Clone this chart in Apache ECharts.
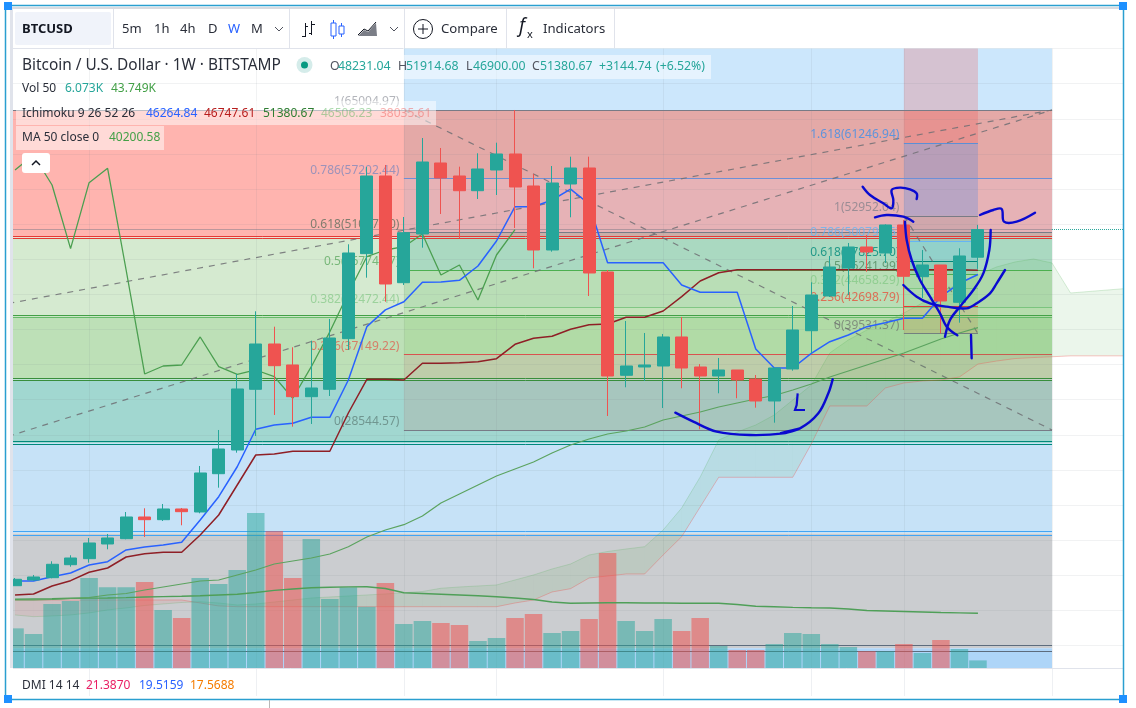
<!DOCTYPE html>
<html><head><meta charset="utf-8">
<style>html,body{margin:0;padding:0;background:#fff}#c{width:1136px;height:708px}</style>
<script src="https://cdn.jsdelivr.net/npm/echarts@6/dist/echarts.min.js"></script>
</head><body><div id="c"></div>
<script>
// ---- weekly candles (index 0 = first visible week)
const opens=[10803,11453,11715,13195,13880,15556,16157,18631,18324,19543,19201,23564,26265,33180,38343,35949,32339,33180,38947,48632,57485,45327,50876,58966,57485,55809,58168,59991,56345,49053,56573,58396,46546,34775,35722,35836,39141,35722,34696,35380,34355,31848,35494,39858,43812,46992,49395,48711,51902,46011,47344,43094,48231.04];
const closes=[11533,11795,13242,13958,15669,16240,18631,18324,19543,19235,23645,26379,33216,38343,35871,32339,33329,39026,48711,57485,45179,51024,59080,57257,55809,58282,59991,56231,49053,56687,58396,46432,34696,35836,35949,39141,35608,34696,35380,34241,31848,35608,39938,43925,47116,49395,48825,51902,46056,47344,43242,48371,51380.67];
const lows=[10769,11373,11646,12968,13425,14950,16090,16352,18176,17685,19053,21970,25958,27860,30253,28922,29228,32416,37659,45897,43163,45065,49316,53155,50387,54864,55320,51560,46968,48860,52779,43812,30139,33410,34128,31050,33295,28624,32725,32157,31085,29377,35300,37283,43698,43925,46580,47572,39938,43583,39561,40770,46900];
const highs=[11678,12023,13584,14268,16240,16696,19199,19622,20112,19656,24441,28544,34924,42069,40314,37967,38719,41191,49702,58510,58738,52814,61814,60675,58545,60071,61279,65005,57712,58624,59684,59684,46774,40964,39596,39482,41419,36050,36750,35380,34811,35608,42673,45373,48370,49851,50762,51980,52471,49053,47344,49247,51914.68];
// ---- volume in thousands
const volumes=[31.7,27.2,51.2,53.6,72,64.6,64.6,68.8,46.4,40,72,67.2,78.4,124,109.6,72,103.2,55.2,64.6,49,68,35.2,37.6,36,34.4,21.6,24,40,43.2,28,29.6,39.2,92,37.6,29.6,39.2,29.6,40,17.6,14.4,14.4,19.2,28,27.2,19.2,16.8,13.4,13.4,19.2,12,22.4,15.2,6.073];
const volumeMA=[55,55.2,55.4,55.8,55.9,56,56.3,56.8,57.1,57.4,57.8,58.4,59,60.4,62.1,63.2,64.2,64.6,64.9,65,63.6,60.2,59.6,59,58.4,57.8,57,56,54.8,52.8,51.8,52,52.2,52.2,52,52,51.8,51.8,51.8,50.8,49.4,49,48.5,48.2,48,47.2,46,45.6,45.2,44.8,44.4,44.1,43.749];
// ---- indicators
const tenkan=[11339,11339,11830,12252,13162,13538,14871,15213,15441,15749,18289,20943,24357,28624,29113,29307,29990,29990,34241,40315,42224,43162,45373,45407,45600,47229,50078,53986,53986,54750,55993,54294,47606,47606,47606,47606,45065,44234,44234,44234,37773,35608,35608,37283,38605,39368,40315,40770,41271,41271,43732,45259,46264.84];
const kijun=[9744,9858,10769,11373,12330,12820,14073,14449,14609,14609,16580,18859,22277,25695,25809,26117,26117,26117,30481,34321,34321,34241,36145,36145,36213,36327,36669,38309,38993,39220,40018,40542,40622,41385,41385,42101,43732,45521,46466,46800,46800,46800,46800,46800,46800,46800,46800,46800,46800,46800,46800,46800,46747.61];
const chikou=[58168,59877,56460,49201,56722,58362,46774,34925,35835,35950,39141,35755,34891,35380,34616,32156,35755,39744,44154,48290,49053,49430,50876,46205,47344,43356,48483,51380.67];
const ma50=[9174,9174,9231,9345,9459,9744,9915,10314,10656,10998,11339,11453,12023,12592,13275,13617,13959,14415,15247,16353,17150,17754,18746,20227,21252,22277,23303,24100,24898,25923,26835,27518,28088,28430,28886,29683,30139,30595,31164,31620,32076,32475,33101,33785,34583,35267,35950,36634,37318,38115,38913,39597,40200.58];
const leadA=[7467,7273,7353,7467,7695,8035,8263,8548,8719,8890,8981,8833,8605,8719,8947,9174,9402,9516,9630,9744,9858,10006,10143,10508,10656,10770,10883,11453,12023,12706,13276,14301,14700,14985,15247,17150,19656,23188,27404,28316,29113,30253,31962,33669,37318,38798,39938,40850,41875,43014,44154,45293,46205,47116,47686,48027,47572,44154,44325,44495,44666];
const leadB=[9174,9174,9174,9174,9174,9174,9174,9174,9174,9174,8833,8491,8411,8411,8411,8411,8411,8411,8411,8411,8411,8411,8411,8411,8411,8411,8411,8833,9174,10086,10462,11681,11909,12137,12137,14301,16386,19770,23154,23154,23154,23154,23154,26949,31279,31279,31279,33330,33900,34128,34241,34583,36057,36399,36684,36798,36889,36991,36991,36991,36991];
// ---- fibonacci retracements: price levels
const fibA=[65005,50480,41515,34297,27063,16752,3671,0];
const fibAColors=['rgb(255,180,175)','rgb(213,234,208)','rgb(189,224,183)','rgb(161,215,208)','rgb(198,226,247)','rgb(203,205,208)','rgb(174,213,248)'];
const fibALines=[65005,50569,50386,41646,41384,34388,34206,27212,26914,16957,16547,4013,3330];
const fibALineColors=['#787b86','#e53935','#e53935','#43a047','#66bb6a','#388e3c','#388e3c','#00897b','#00897b','#42a5f5','#42a5f5','#5d6c7d','#5d6c7d'];
const fibB=[65004.97,57202.44,51077.1,46774.77,42472.44,37149.22,28544.57];
const fibBNames=['1(65004.97)','0.786(57202.44)','0.618(51077.10)','0.5(46774.77)','0.382(42472.44)','0.236(37149.22)','0(28544.57)'];
const fibBColors=['rgba(120,123,134,.2)','rgba(88,167,222,.15)','rgba(0,150,136,.2)','rgba(76,175,80,.2)','rgba(129,199,100,.2)','rgba(195,130,120,.2)'];
const fibBLineColors=['#787b86','#6d8fd6','#787b86','#4caf50','#81c784','#d9534f','#787b86'];
const fibBTextColors=['rgba(120,123,134,.7)','rgba(110,130,190,.85)','rgba(70,100,80,.85)','rgba(76,160,80,.85)','rgba(129,199,132,.85)','rgba(229,70,60,.8)','rgba(90,120,115,.85)'];
const fibC=[61246.94,52952,50080,47825.7,46241.99,44658.29,42698.79,39531.37];
const fibCNames=['1.618(61246.94)','1(52952.04)','0.786(50079.65)','0.618(47825.70)','0.5(46241.99)','0.382(44658.29)','0.236(42698.79)','0(39531.37)'];
const fibCColors=['rgba(50,126,234,.25)','rgba(120,123,134,.2)','rgba(50,180,240,.2)','rgba(0,150,136,.15)','rgba(76,175,80,.12)','rgba(76,175,80,.1)','rgba(240,120,60,.2)'];
const fibCLineColors=['#5b8fd6','#787b86','#64b5f6','#00897b','#4caf50','#81c784','#e53935','#787b86'];
const fibCTextColors=['#3d8ee8','rgba(120,123,134,.85)','#64b5f6','#00897b','rgba(60,120,70,.8)','rgba(129,199,132,.9)','#e5533d','rgba(110,115,110,.9)'];
const fibCTop=72000;
// ---- dashed trend lines [fromCat,fromPrice,toCat,toPrice]
const trends=[[0,42707,57,65005],[0,27404,57,65005],[22,65005,57,28545],[49,52952,53,39531]];
const lastClose=51380.67;
const monthCats=[5,14,22,27,36,44,49,57];

const N=62, cats=Array.from({length:N},(_,i)=>'w'+i);
const shift=a=>a.map((v,i)=>[i+1,v]);
const F='"Noto Sans",sans-serif';
const UP='#26a69a',DOWN='#ef5350';

const gridLine={lineStyle:{color:'rgba(120,123,134,.1)',width:1}};
const lineS=(name,data,color,z,width,extra)=>Object.assign({name,type:'line',data:shift(data),showSymbol:false,symbol:'none',z,
  lineStyle:{color,width},itemStyle:{color},silent:true},extra||{});
const area=(z,data)=>({type:'line',data:[],silent:true,markArea:{silent:true,z,data}});
const seg=(x0,x1,p0,p1,color)=>[{xAxis:x0,yAxis:p0,itemStyle:{color}},{xAxis:x1,yAxis:p1}];
const hline=(x0,x1,p,color,extra)=>[{xAxis:x0,yAxis:p,lineStyle:Object.assign({color,width:1,type:'solid',opacity:1},extra||{})},{xAxis:x1,yAxis:p}];

const baseBands=fibAColors.map((c,i)=>seg(0,57,fibA[i],fibA[i+1],c));
baseBands.push(seg(22,57,72000,65005,'rgb(204,231,252)'));
const bBands=fibBColors.map((c,i)=>seg(22,57,fibB[i],fibB[i+1],c));
const cBands=fibCColors.map((c,i)=>seg(49,53,fibC[i],fibC[i+1],c));
cBands.unshift(seg(49,53,fibCTop,fibC[0],'rgba(239,83,80,.25)'));

const mLines=[];
fibALines.forEach((p,i)=>mLines.push(hline(0,57,p,fibALineColors[i])));
fibB.forEach((p,i)=>mLines.push(hline(22,57,p,fibBLineColors[i])));
fibC.forEach((p,i)=>mLines.push(hline(49,53,p,fibCLineColors[i])));
mLines.push(hline(0,57,lastClose,'#787b86',{type:'dotted'}));
mLines.push(hline(57,61,lastClose,'#26a69a',{type:'dotted'}));
trends.forEach(t=>mLines.push([{xAxis:t[0],yAxis:t[1],lineStyle:{color:'rgba(110,110,115,.85)',width:1.2,type:[6,6],opacity:1}},{xAxis:t[2],yAxis:t[3]}]));

const fibLabels=[];
fibB.forEach((p,i)=>fibLabels.push({value:[22,p],label:{formatter:fibBNames[i],color:fibBTextColors[i]}}));
fibC.forEach((p,i)=>fibLabels.push({value:[49,p],label:{formatter:fibCNames[i],color:fibCTextColors[i]}}));

const cloudRows=leadA.map((a,i)=>[i+1,a,leadB[i]]);

const series=[
 area(1,baseBands),area(2,bBands),area(3,cBands),
 {type:'line',data:[],silent:true,markLine:{silent:true,z:5,symbol:'none',label:{show:false},emphasis:{disabled:true},data:mLines}},
 {name:'Kumo',type:'custom',z:6,silent:true,data:cloudRows,encode:{x:0,y:[1,2]},clip:true,
  renderItem(params,api){
    const i=params.dataIndex; if(i>=leadA.length-1) return null;
    const a0=api.coord([i+1,leadA[i]]),a1=api.coord([i+2,leadA[i+1]]),b1=api.coord([i+2,leadB[i+1]]),b0=api.coord([i+1,leadB[i]]);
    const up=leadA[i]+leadA[i+1]>=leadB[i]+leadB[i+1];
    return {type:'polygon',shape:{points:[a0,a1,b1,b0]},style:{fill:up?'rgba(76,175,80,.115)':'rgba(239,83,80,.10)',stroke:null}};
  }},
 lineS('Lead 1',leadA,'rgba(76,175,80,.22)',6,1),
 lineS('Lead 2',leadB,'rgba(239,83,80,.35)',6,1),
 {name:'Volume',type:'bar',yAxisIndex:1,barWidth:17.5,z:7,silent:true,
  data:volumes.map((v,i)=>({value:[i+1,v],itemStyle:{color:closes[i]>=opens[i]?'rgba(38,166,154,.5)':'rgba(239,83,80,.55)'}}))},
 lineS('Vol MA',volumeMA,'#4f9f58',8,1.4,{yAxisIndex:1}),
 {name:'Fib labels',type:'scatter',z:8,symbolSize:1,silent:true,itemStyle:{color:'rgba(0,0,0,0)'},data:fibLabels,
  label:{show:true,position:'left',distance:4,offset:[0,-8],fontFamily:F,fontSize:12}},
 lineS('MA 50',ma50,'#5ba35f',9,1.2),
 lineS('Chikou',chikou,'#4b9f50',9,1.3),
 lineS('Kijun',kijun,'#8f1f26',9,1.5),
 lineS('Tenkan',tenkan,'#2962ff',9,1.5),
 {name:'BTCUSD',type:'candlestick',z:12,silent:true,barWidth:12.5,
  data:opens.map((o,i)=>[i+1,o,closes[i],lows[i],highs[i]]),encode:{x:0,y:[1,2,3,4]},
  itemStyle:{color:UP,color0:DOWN,borderColor:UP,borderColor0:DOWN,borderWidth:1}}
];

// ---- page furniture
const g=[];
const txt=(x,y,text,fill,size,weight,z)=>g.push({type:'text',silent:true,z:z||70,style:{x,y,text,fill,font:(weight||'normal')+' '+(size||13)+'px '+F,textVerticalAlign:'middle',verticalAlign:'middle'}});
const rect=(x,y,w,h,fill,z,r)=>g.push({type:'rect',silent:true,z:z||50,shape:{x,y,width:w,height:h,r:r||0},style:{fill}});
const ln=(x1,y1,x2,y2,stroke,w,z)=>g.push({type:'line',silent:true,z:z||60,shape:{x1,y1,x2,y2},style:{stroke,lineWidth:w||1}});
const scrib=(pts)=>g.push({type:'polyline',silent:true,z:40,shape:{points:pts,smooth:.35},style:{stroke:'#0a0ad0',lineWidth:2.4,fill:null,lineCap:'round'}});
const z4=p=>p.map(a=>[760+a[0]/3,100+a[1]/3]), z3=p=>p.map(a=>[400+a[0]/3,100+a[1]/3]);

// hand-drawn annotations
scrib(z4([[308,260],[330,285],[370,310],[395,325],[400,300],[395,270],[420,263],[450,268],[470,280],[470,297]]));
scrib(z4([[345,352],[380,345],[430,350],[460,365]]));
scrib(z4([[435,365],[440,420],[455,480],[480,540],[510,590],[540,640],[560,680],[592,706]]));
scrib(z4([[430,555],[470,590],[510,610],[560,620],[620,625],[650,610],[690,580],[710,550],[735,510]]));
scrib(z4([[692,390],[688,450],[670,520],[640,570],[600,620],[570,660],[555,710]]));
scrib(z4([[633,705],[635,775]]));
scrib(z4([[660,345],[700,330],[725,327],[732,365],[770,365],[825,338]]));
scrib(z3([[826,938],[880,965],[950,995],[1050,1005],[1150,1000],[1200,985]]).concat(z4([[60,1000],[120,985],[175,940],[205,880],[218,838]])));
g.push({type:'polyline',silent:true,z:40,shape:{points:z4([[113,880],[110,915],[105,930],[135,930]])},style:{stroke:'#0a0ad0',lineWidth:2.2,fill:null}});

// covers around the plot
rect(0,668,1136,40,'#fff',50);
rect(0,0,1136,9,'#fff',50);
rect(0,0,13,708,'#fff',50);
rect(10,9,3,659,'#e0e3eb',51);
rect(1124,0,12,708,'#fff',50);
rect(5,7,1119,2,'#d9dbe0',51);
// toolbar
rect(13,9,1111,39,'#fff',52);
rect(15,12,96,33,'#f0f3fa',53,2);
[113,289,404,506,614].forEach(x=>ln(x+.5,9,x+.5,48,'#e0e3eb',1));
ln(13,48.5,403,48.5,'#e0e3eb',1);
ln(13,668.5,1124,668.5,'#e0e3eb',1);
txt(22,29,'BTCUSD','#131722',13,'bold');
[['5m',122],['1h',154],['4h',180],['D',208],['W',228],['M',251]].forEach(a=>txt(a[1],29,a[0],a[0]==='W'?'#2962ff':'#2a2e39',13));
const chev=x=>g.push({type:'polyline',silent:true,z:70,shape:{points:[[x-4,27],[x,31],[x+4,27]]},style:{stroke:'#50535e',lineWidth:1,fill:null}});
chev(279);chev(394);
// bar icon
ln(305.5,23,305.5,37,'#131722');ln(302,36.5,305.5,36.5,'#131722');ln(305.5,26.5,308,26.5,'#131722');
ln(311.5,21,311.5,35,'#131722');ln(311.5,24.5,315,24.5,'#131722');ln(309,33.5,311.5,33.5,'#131722');
// candle icon
ln(333.5,20,333.5,39,'#2962ff');g.push({type:'rect',silent:true,z:70,shape:{x:331,y:23,width:5,height:13},style:{fill:'#fff',stroke:'#2962ff'}});
ln(341.5,23,341.5,37,'#2962ff');g.push({type:'rect',silent:true,z:70,shape:{x:339,y:26,width:5,height:8},style:{fill:'#fff',stroke:'#2962ff'}});
// area icon
g.push({type:'polygon',silent:true,z:70,shape:{points:[[358,36],[364,30],[368,32],[376,23],[377,36]]},style:{fill:'#7b7e87'}});
g.push({type:'polyline',silent:true,z:70,shape:{points:[[358,35],[364,29],[368,31],[376,22]]},style:{stroke:'#131722',fill:null,lineWidth:1}});
// compare
g.push({type:'circle',silent:true,z:70,shape:{cx:423,cy:29,r:9.5},style:{fill:'#fff',stroke:'#131722',lineWidth:1}});
ln(418,29,428,29,'#131722',1,72);ln(423,24,423,34,'#131722',1,72);
txt(441,29,'Compare','#2a2e39',13.2);
txt(519,27,'f','#131722',19,'italic');
txt(527,35,'x','#131722',11);
txt(543,29,'Indicators','#2a2e39',13.2);
// legend
rect(326,55,385,24,'rgba(255,255,255,.5)',55);
rect(16,101,420,24,'rgba(255,255,255,.5)',55);
rect(16,126,148,24,'rgba(255,255,255,.5)',55);
txt(22,66,'Bitcoin / U.S. Dollar · 1W · BITSTAMP','#2a2e39',15.4);
g.push({type:'circle',silent:true,z:60,shape:{cx:304.5,cy:65,r:8},style:{fill:'#d5ecea'}});
g.push({type:'circle',silent:true,z:61,shape:{cx:304.5,cy:65,r:3.5},style:{fill:'#089981'}});
const T='#26a69a';
[['O',330,'#50535e'],['48231.04',338,T],['H',398,'#50535e'],['51914.68',406,T],['L',466,'#50535e'],['46900.00',473,T],['C',532,'#50535e'],['51380.67',540,T],['+3144.74',599,T],['(+6.52%)',656,T]].forEach(a=>txt(a[1],66,a[0],a[2],12.3));
txt(22,89,'Vol 50','#2a2e39',12);txt(65,89,'6.073K',T,12);txt(111,89,'43.749K','#43a047',12);
txt(22,114,'Ichimoku 9 26 52 26','#2a2e39',12);
txt(146,114,'46264.84','#2962ff',12);txt(204,114,'46747.61','#b71c1c',12);txt(263,114,'51380.67','#2e7d32',12);
txt(321,114,'46506.23','rgba(76,175,80,.45)',12);txt(380,114,'38035.61','rgba(239,83,80,.45)',12);
txt(22,138,'MA 50 close 0','#2a2e39',12);txt(109,138,'40200.58','#43a047',12);
rect(22,153,28,20,'#fff',60,3);
g.push({type:'polyline',silent:true,z:70,shape:{points:[[32,165],[36,161],[40,165]]},style:{stroke:'#131722',lineWidth:1.5,fill:null}});
txt(22,686,'DMI 14 14','#2a2e39',12);txt(86,686,'21.3870','#e91e63',12);txt(139,686,'19.5159','#2962ff',12);txt(190,686,'17.5688','#f57c00',12);
// selection frame
const B='#2a9fd0';
ln(5,5.5,1123,5.5,B,1.5,80);ln(5,699.5,1123,699.5,B,1.5,80);ln(5.5,5,5.5,700,B,1.5,80);ln(1123.5,5,1123.5,700,B,1.5,80);
[[4,2],[4,695],[1119,695],[1119,2]].forEach(p=>rect(p[0],p[1],8,8,'#1e90ff',81));
ln(269.5,700,269.5,708,'#b8b8b8',1,80);

const chart=echarts.init(document.getElementById('c'),null,{renderer:'canvas'});
chart.setOption({
 animation:false,backgroundColor:'#fff',tooltip:{show:false},legend:{show:false},
 grid:[{left:-3.5,top:48.6,width:18.518*61,height:631.9,show:false,outerBoundsMode:'none'},{left:-3.5,top:668,width:18.518*61,height:28,show:false,outerBoundsMode:'none'}],
 xAxis:[
  {type:'category',gridIndex:0,data:cats,boundaryGap:false,z:4,axisLine:{show:false},axisTick:{show:false},axisLabel:{show:false},
   splitLine:Object.assign({show:true,interval:(i)=>monthCats.includes(i)},gridLine)},
  {type:'category',gridIndex:1,data:cats,boundaryGap:false,z:55,axisLine:{show:false},axisTick:{show:false},axisLabel:{show:false},
   splitLine:{show:true,interval:(i)=>monthCats.includes(i),lineStyle:{color:'#eef0f3',width:1}}}
 ],
 yAxis:[
  {type:'value',gridIndex:0,min:0,max:72000,interval:4000,z:4,position:'right',axisLine:{show:false},axisTick:{show:false},axisLabel:{show:false},splitLine:Object.assign({show:true},gridLine)},
  {type:'value',gridIndex:0,min:-10,max:495.5,position:'left',axisLine:{show:false},axisTick:{show:false},axisLabel:{show:false},splitLine:{show:false}},
  {type:'value',gridIndex:1,min:0,max:1,axisLine:{show:false},axisTick:{show:false},axisLabel:{show:false},splitLine:{show:false}}
 ],
 graphic:{elements:g},
 series
});
</script></body></html>
